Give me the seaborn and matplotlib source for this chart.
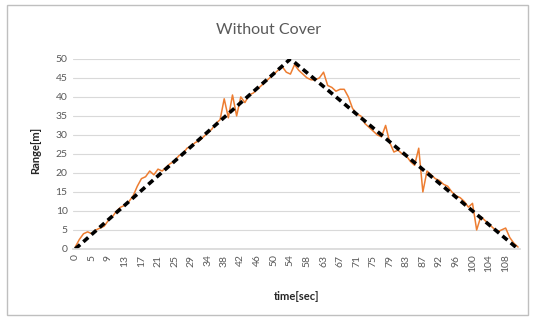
import numpy as np
import pandas as pd
import matplotlib
matplotlib.use('Agg')
import matplotlib.pyplot as plt
import seaborn as sns
from matplotlib.patches import Rectangle

# category labels shown on the x axis (every 4th sample)
time_labels = ['0', '5', '9', '13', '17', '21', '25', '29', '34', '38', '42', '46', '50', '54',
               '58', '63', '67', '71', '75', '79', '83', '87', '92', '96', '100', '104', '108']

range_meas = [0.5, 2.5, 4.0, 4.5, 4.0, 5.0, 5.5, 6.0, 7.5, 8.5,
              10.0, 11.0, 11.5, 12.5, 14.0, 16.5, 18.5, 19.0, 20.5, 19.5,
              21.0, 20.5, 21.5, 22.5, 23.0, 24.5, 25.0, 26.5, 27.0, 28.0,
              28.5, 29.5, 30.5, 31.5, 33.0, 34.0, 39.5, 34.5, 40.5, 35.0,
              40.0, 38.5, 40.5, 41.0, 42.0, 43.0, 44.0, 45.0, 46.0, 47.0,
              48.0, 46.5, 46.0, 48.5, 47.0, 46.0, 45.0, 44.5, 44.5, 45.0,
              46.5, 43.0, 42.5, 41.5, 42.0, 42.0, 40.0, 37.0, 35.5, 35.0,
              33.0, 32.0, 31.0, 30.0, 29.5, 32.5, 28.0, 25.5, 26.0, 25.0,
              24.5, 23.0, 22.0, 26.5, 15.0, 20.5, 19.5, 18.5, 18.0, 17.0,
              16.5, 15.0, 14.0, 13.5, 12.5, 11.0, 12.0, 5.0, 8.5, 7.5,
              6.5, 5.5, 4.5, 5.0, 5.5, 3.0, 1.5, 0.5]

# ideal path (vertices of the dashed reference line)
ideal_idx = [0, 52, 107]
ideal_range = [0, 50, 0]

y_ticks = [0, 5, 10, 15, 20, 25, 30, 35, 40, 45, 50]

sns.set_theme(style='white')
plt.rcParams['font.family'] = ['Lato', 'DejaVu Sans']

fig = plt.figure(figsize=(5.34, 3.2), dpi=100)
ax = fig.add_axes([0.137, 0.222, 0.837, 0.594])

df = pd.DataFrame({'idx': np.arange(len(range_meas)), 'range': range_meas})
sns.lineplot(data=df, x='idx', y='range', color='#ED7D31', lw=1.1, ax=ax)
sns.lineplot(x=ideal_idx, y=ideal_range, color='black', lw=2.6,
             linestyle=(0, (1.8, 1.2)), ax=ax)

ax.set_xlim(-0.5, len(range_meas) - 0.5)
ax.set_ylim(0, 50)
ax.set_yticks(y_ticks)
ax.set_yticklabels([str(v) for v in y_ticks], fontsize=7.5, color='#595959')
ax.set_xticks(np.arange(0, 4 * len(time_labels), 4))
ax.set_xticklabels(time_labels, rotation=90, fontsize=7.5, color='#595959')
ax.tick_params(axis='both', length=0, pad=4)

ax.grid(axis='y', color='#d9d9d9', lw=0.8)
ax.set_axisbelow(True)
for s in ['top', 'left', 'right']:
    ax.spines[s].set_visible(False)
ax.spines['bottom'].set_color('#d9d9d9')
ax.set_xlabel('')
ax.set_ylabel('')

fig.text(0.502, 0.906, 'Without Cover', ha='center', va='center', fontsize=11.5, color='#595959')
fig.text(0.555, 0.075, 'time[sec]', ha='center', va='center', fontsize=8, fontweight='bold', color='#262626')
fig.text(0.067, 0.53, 'Range[m]', ha='center', va='center', rotation=90, fontsize=8,
         fontweight='bold', color='#262626')

fig.patches.append(Rectangle((0.013, 0.016), 0.976, 0.968, transform=fig.transFigure,
                             fill=False, ec='#bfbfbf', lw=1))

fig.savefig('out.png', dpi=100)
